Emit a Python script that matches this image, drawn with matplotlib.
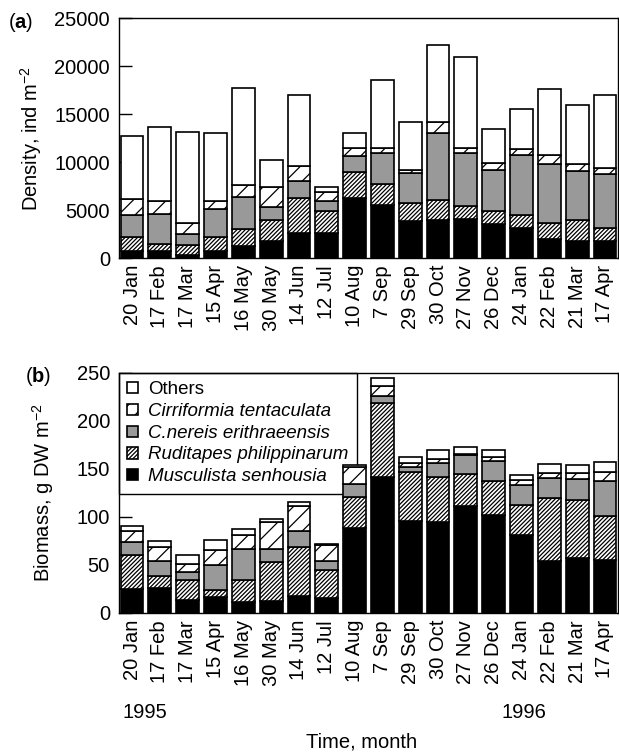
"""Stacked bar charts of macrobenthos density and biomass, 1995-1996."""

import matplotlib
matplotlib.use("Agg")
import matplotlib.pyplot as plt
import numpy as np

plt.rcParams["font.family"] = ["Liberation Sans", "DejaVu Sans"]
plt.rcParams["mathtext.fontset"] = "custom"
plt.rcParams["mathtext.rm"] = "Liberation Sans"
plt.rcParams["mathtext.it"] = "Liberation Sans:italic"
plt.rcParams["mathtext.bf"] = "Liberation Sans:bold"
plt.rcParams["hatch.linewidth"] = 0.9

dates = ["20 Jan", "17 Feb", "17 Mar", "15 Apr", "16 May", "30 May", "14 Jun",
         "12 Jul", "10 Aug", "7 Sep", "29 Sep", "30 Oct", "27 Nov", "26 Dec",
         "24 Jan", "22 Feb", "21 Mar", "17 Apr"]

species = ["Musculista senhousia", "Ruditapes philippinarum",
           "C.nereis erithraeensis", "Cirriformia tentaculata", "Others"]

# density, ind m-2 (bottom to top of each stack)
dens_musculista = [700, 700, 350, 700, 1250, 1810, 2610, 2610, 6300, 5570,
                   3870, 3930, 4040, 3590, 3170, 2020, 1810, 1740]
dens_ruditapes = [1460, 770, 1010, 1460, 1810, 2160, 3620, 2300, 2680, 2190,
                  1880, 2090, 1390, 1320, 1360, 1640, 2160, 1430]
dens_nereis = [2330, 3130, 1150, 2930, 3270, 1320, 1810, 1010, 1670, 3130,
               3060, 7030, 5540, 4280, 6200, 6160, 5080, 5540]
dens_cirriformia = [1670, 1360, 1110, 840, 1290, 2090, 1500, 910, 840, 590,
                    350, 1080, 520, 730, 630, 910, 770, 630]
dens_others = [6550, 7660, 9540, 7070, 10100, 2820, 7420, 560, 1500, 7100,
               5050, 8080, 9470, 3480, 4110, 6890, 6130, 7630]

# biomass, g DW m-2
bio_musculista = [25, 26, 14, 17, 11, 12, 18, 16, 89, 142,
                  96, 95, 111, 102, 81, 54.5, 57, 55.5]
bio_ruditapes = [35, 12.5, 20, 7, 23, 41, 51, 29, 32, 77,
                 50.5, 47, 34, 35.5, 31, 65.5, 61, 45.5]
bio_nereis = [14, 15.5, 9, 26, 33, 14, 16, 9, 13, 7,
              5.5, 14, 20, 20.5, 21, 21, 22, 37]
bio_cirriformia = [11, 15, 8, 16, 14, 28, 26, 16.5, 18, 10,
                   4, 4, 1, 4.5, 6, 5, 6, 9]
bio_others = [6, 6, 9, 10, 6.5, 2.6, 5, 1.5, 2, 9,
              7, 10, 7, 7.5, 5, 9, 8, 10]

STYLES = [
    dict(color="black", hatch=None),
    dict(color="white", hatch="////////"),
    dict(color="#999999", hatch=None),
    dict(color="white", hatch="//"),
    dict(color="white", hatch=None),
]

W, H = 619, 752
FS = 14.5


def draw_stack(ax, layers, ymax, ystep, ylabel):
    x = np.arange(len(dates))
    bottom = np.zeros(len(dates))
    handles = []
    for vals, st, name in zip(layers, STYLES, species):
        vals = np.asarray(vals, dtype=float)
        bc = ax.bar(x, vals, width=0.82, bottom=bottom, color=st["color"],
                    hatch=st["hatch"], edgecolor="black", linewidth=1.2,
                    label=name, zorder=3)
        handles.append(bc)
        bottom += vals
    ax.set_xlim(-0.47, len(dates) - 0.53)
    ax.set_ylim(0, ymax)
    ax.set_yticks(np.arange(0, ymax + 1, ystep))
    ax.set_xticks(x)
    ax.set_xticklabels(dates, rotation=90, va="top", ha="center")
    ax.tick_params(axis="x", length=0, pad=5, labelsize=FS)
    ax.tick_params(axis="y", direction="in", length=9, width=1, pad=6.5,
                   labelsize=FS)
    for sp in ax.spines.values():
        sp.set_linewidth(1.0)
    ax.set_ylabel(ylabel, fontsize=FS)
    return handles


fig = plt.figure(figsize=(W / 100, H / 100), dpi=100)
ax_a = fig.add_axes([119 / W, 1 - 258 / H, 499 / W, 240 / H])
ax_b = fig.add_axes([119 / W, 1 - 613 / H, 499 / W, 240 / H])

draw_stack(ax_a, [dens_musculista, dens_ruditapes, dens_nereis,
                  dens_cirriformia, dens_others],
           25000, 5000, "Density, ind m$^{-2}$")
ax_a.yaxis.set_label_coords(-0.150, 0.5)

hb = draw_stack(ax_b, [bio_musculista, bio_ruditapes, bio_nereis,
                       bio_cirriformia, bio_others],
                250, 50, "Biomass, g DW m$^{-2}$")
ax_b.yaxis.set_label_coords(-0.126, 0.5)

leg = ax_b.legend(hb[::-1], species[::-1], loc="upper left",
                  bbox_to_anchor=(0, 1), borderaxespad=0,
                  prop={"style": "italic", "size": 13.5},
                  handlelength=0.55, handleheight=0.55, handletextpad=0.55,
                  labelspacing=0.25, borderpad=0.45, fancybox=False,
                  framealpha=1, edgecolor="black")
leg.get_frame().set_linewidth(1.0)
leg.set_zorder(2)
leg.get_texts()[0].set_fontstyle("normal")

fig.text(21 / W, 1 - 22 / H, "($\\mathbf{a}$)", fontsize=FS,
         ha="center", va="center")
fig.text(38 / W, 1 - 376 / H, "($\\mathbf{b}$)", fontsize=FS,
         ha="center", va="center")
fig.text(145 / W, 1 - 712 / H, "1995", fontsize=FS, ha="center", va="center")
fig.text(524 / W, 1 - 712 / H, "1996", fontsize=FS, ha="center", va="center")
fig.text(362 / W, 1 - 742 / H, "Time, month", fontsize=FS,
         ha="center", va="center")

fig.savefig("out.png", dpi=100)
plt.close(fig)
